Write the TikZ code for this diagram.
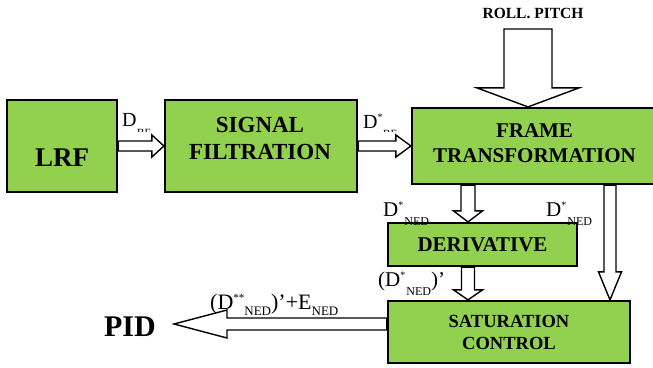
\documentclass[tikz,border=0pt]{standalone}
\usepackage{fontspec}
\setmainfont{Liberation Serif}
\usetikzlibrary{calc}
\definecolor{boxgreen}{RGB}{146,208,80}
\newcommand\fs[2]{\fontsize{#1}{#2}\selectfont}
% D label: #1 star, #2 subscript, #3 star raise, #4 sub lowering, #5 sub size, #6 star size, #7 gap
\newcommand\Dl[7]{D\rlap{\raisebox{#3}{\fs{#6}{#6}#1}}\hspace{#7}\raisebox{-#4}{\fs{#5}{#5}#2}}
% block arrow: #1 start, #2 tip, #3 half shaft, #4 half head, #5 head length
\newcommand\blockarr[5]{%
  \path ($(#2)!#5pt!(#1)$) coordinate (hb);
  \draw[arr] ($(#1)!#3pt!90:(#2)$) -- ($(hb)!#3pt!90:(#2)$) -- ($(hb)!#4pt!90:(#2)$) -- (#2)
    -- ($(hb)!#4pt!-90:(#2)$) -- ($(hb)!#3pt!-90:(#2)$) -- ($(#1)!#3pt!-90:(#2)$) -- cycle;}
\begin{document}
\begin{tikzpicture}[x=1pt,y=-1pt,
  box/.style={draw=black,line width=2.2pt,fill=boxgreen,inner sep=0pt},
  btxt/.style={inner sep=0pt,align=center},
  lbl/.style={inner sep=0pt,anchor=base west},
  arr/.style={draw=black,line width=1.4pt,fill=white,line join=miter,miter limit=20}]
\useasboundingbox[fill=white] (0,0) rectangle (653,367);
% boxes
\node[box,minimum width=110pt,minimum height=92pt] (lrf) at (62,146) {};
\node[box,minimum width=192pt,minimum height=92pt] (sf) at (261,146) {};
\node[box,minimum width=244pt,minimum height=76pt] (ft) at (534,146) {};
\node[box,minimum width=189pt,minimum height=43pt] (der) at (482.5,244.5) {};
\node[box,minimum width=242pt,minimum height=62pt] (sat) at (509,332) {};
% box texts
\node[btxt,font={\bfseries\fs{27}{30}}] (lrft) at (62,157.5) {LRF};
\node[btxt,font={\bfseries\fs{23}{27}}] (sft) at (260,138) {SIGNAL\\FILTRATION};
\node[btxt,font={\bfseries\fs{21}{25}}] (ftt) at (534.5,143) {FRAME\\TRANSFORMATION};
\node[btxt,font={\bfseries\fs{21}{25}}] (dert) at (482.5,245) {DERIVATIVE};
\node[btxt,font={\bfseries\fs{18.5}{22}}] (satt) at (509,332.5) {SATURATION\\CONTROL};
\node[btxt,font={\bfseries\fs{15.5}{18}}] (rp) at (533,13.5) {ROLL. PITCH};
\node[btxt,font={\bfseries\fs{30}{32}}] (pid) at (130,326.5) {PID};
% labels
\node[lbl,font={\fs{20}{20}}] (l1) at (122,126) {D};
\begin{scope}
  \clip (134,120) rectangle (160,131.5);
  \node[lbl,font={\fs{11}{11}}] (l1s) at (137,136) {BF};
\end{scope}
\node[lbl,font={\fs{20}{20}}] (l2) at (363,128) {D\raisebox{8pt}{\fs{10}{10}*}};
\begin{scope}
  \clip (380,120) rectangle (405,131.5);
  \node[lbl,font={\fs{11}{11}}] (l2s) at (383,137) {BF};
\end{scope}
\node[lbl,font={\fs{21}{21}}] (l3) at (383,216) {\Dl{*}{NED}{8pt}{9pt}{12}{10}{6pt}};
\node[lbl,font={\fs{21}{21}}] (l4) at (546,216) {\Dl{*}{NED}{8pt}{9pt}{12}{10}{6pt}};
\node[lbl,font={\fs{21}{21}}] (l5) at (378,286) {(\Dl{*}{NED}{8pt}{9pt}{12}{10}{6pt})'};
\node[lbl,font={\fs{22}{22}}] (l6) at (210,309) {(\Dl{**}{NED}{8pt}{6pt}{13}{11}{11pt})'+E\raisebox{-6pt}{\fs{13}{13}NED}};
% arrow coordinates
\coordinate (rp0) at (528,29);
\coordinate (rp1) at (rp0 |- ft.north);
\coordinate (x1) at (468,0);
\coordinate (d0) at (x1 |- ft.south);
\coordinate (d1) at (x1 |- der.north);
\coordinate (d2) at (x1 |- der.south);
\coordinate (d3) at (x1 |- sat.north);
\coordinate (x2) at (610,0);
\coordinate (r0) at (x2 |- ft.south);
\coordinate (r1) at (x2 |- sat.north);
\coordinate (p0) at ([yshift=8pt]sat.west);
\coordinate (p1) at ($(pid.east |- p0)+(18,0)$);
% arrows
\blockarr{lrf.east}{sf.west}{5}{11}{12}
\blockarr{sf.east}{ft.west}{5}{11}{15}
\blockarr{rp0}{rp1}{24}{51}{19}
\blockarr{d0}{d1}{7}{14.5}{11}
\blockarr{d2}{d3}{6.5}{14.5}{10}
\blockarr{r0}{r1}{6}{11.5}{28}
\blockarr{p0}{p1}{6}{14}{53}
\end{tikzpicture}
\end{document}
